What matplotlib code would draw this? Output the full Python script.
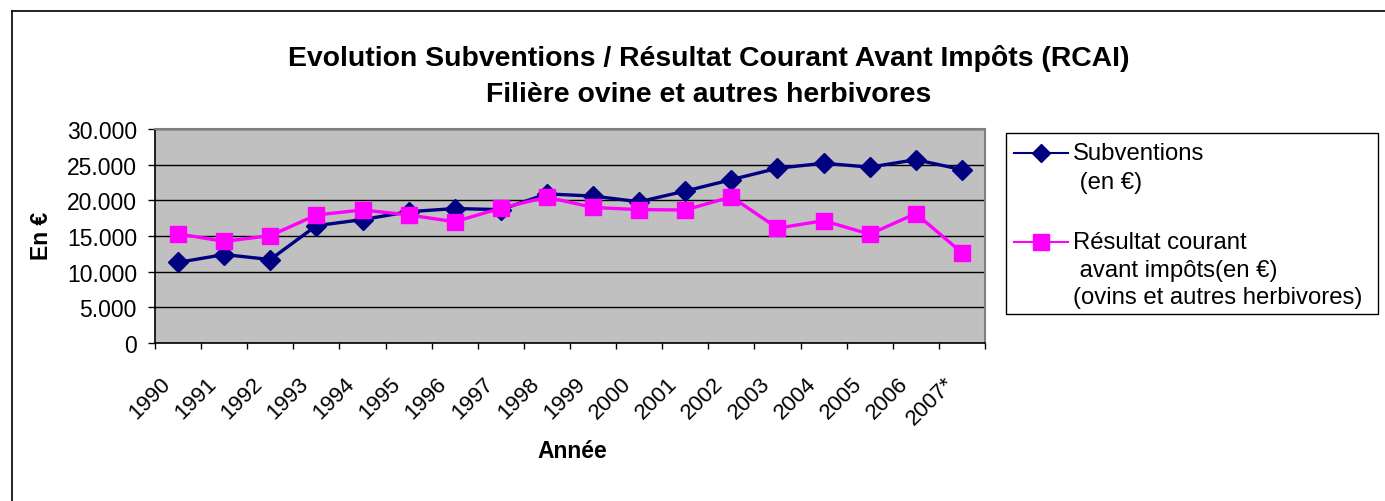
import matplotlib
matplotlib.use("Agg")
import matplotlib.pyplot as plt
import matplotlib.transforms as mtransforms
from matplotlib.lines import Line2D
from matplotlib.patches import Rectangle
import numpy as np

plt.rcParams['font.family'] = ['Liberation Sans', 'DejaVu Sans']

years = ['1990', '1991', '1992', '1993', '1994', '1995', '1996', '1997', '1998',
         '1999', '2000', '2001', '2002', '2003', '2004', '2005', '2006', '2007*']
subventions = [11300, 12400, 11700, 16450, 17300, 18400, 18850, 18700, 20900,
               20600, 19800, 21300, 22900, 24500, 25200, 24650, 25700, 24300]
rcai = [15300, 14250, 15050, 17950, 18650, 17950, 17000, 18900, 20450,
        19000, 18700, 18650, 20500, 16100, 17150, 15250, 18150, 12650]
yticks = [0, 5000, 10000, 15000, 20000, 25000, 30000]
ytick_labels = ['0', '5.000', '10.000', '15.000', '20.000', '25.000', '30.000']

W, H = 1385, 502
fig = plt.figure(figsize=(W / 100, H / 100), dpi=100)
fig.patch.set_facecolor('white')

def fx(px):
    return px / W

def fy(py):
    return 1 - py / H

# outer frame (left and top visible)
fig.add_artist(Line2D([fx(12), fx(12)], [fy(12), 0], color='black', lw=1.2, transform=fig.transFigure))
fig.add_artist(Line2D([fx(12), 1], [fy(12), fy(12)], color='black', lw=1.2, transform=fig.transFigure))

ax = fig.add_axes([fx(155), fy(344), fx(985) - fx(155), fy(130) - fy(344)])
ax.set_facecolor('#C0C0C0')

x = np.arange(len(years))
ax.plot(x, subventions, color='#000080', lw=2.4, marker='D', ms=10, zorder=3)
ax.plot(x, rcai, color='#FF00FF', lw=2.4, marker='s', ms=11, zorder=4)

ax.set_xlim(-0.5, len(years) - 0.5)
ax.set_ylim(0, 30000)
ax.set_yticks(yticks)
ax.set_yticklabels(ytick_labels, fontsize=16.5)
ax.tick_params(axis='y', direction='out', length=5, width=1, pad=8)
ax.set_xticks(np.arange(len(years) + 1) - 0.5)
ax.set_xticklabels([])
ax.tick_params(axis='x', direction='out', length=4.5, width=1)
ax.yaxis.grid(True, color='black', lw=1.0)
ax.set_axisbelow(True)

for side in ['left', 'bottom']:
    ax.spines[side].set_color('black')
    ax.spines[side].set_linewidth(1.2)
for side in ['top', 'right']:
    ax.spines[side].set_color('#808080')
    ax.spines[side].set_linewidth(1.5)

# rotated year labels
trans = mtransforms.blended_transform_factory(ax.transData, ax.transAxes)
off = mtransforms.ScaledTranslation(-0.11, -0.37, fig.dpi_scale_trans)
for i, lab in enumerate(years):
    ax.text(i, 0, lab, transform=trans + off, rotation=45, rotation_mode='anchor',
            ha='right', va='center', fontsize=16)

# titles and axis labels
fig.text(fx(709), fy(58), 'Evolution Subventions / Résultat Courant Avant Impôts (RCAI)',
         ha='center', va='center', fontsize=20.4, fontweight='bold')
fig.text(fx(709), fy(95), 'Filière ovine et autres herbivores',
         ha='center', va='center', fontsize=20.4, fontweight='bold')
fig.text(fx(572), fy(452), 'Année', ha='center', va='center', fontsize=16.5, fontweight='bold')
fig.text(fx(42), fy(236), 'En €', ha='center', va='center', rotation=90,
         fontsize=16.5, fontweight='bold')

# legend drawn by hand
fig.add_artist(Rectangle((fx(1006), fy(315)), fx(1378) - fx(1006), fy(134) - fy(315),
                         transform=fig.transFigure, facecolor='white', edgecolor='black', lw=1.0))
fig.add_artist(Line2D([fx(1014), fx(1068)], [fy(154), fy(154)], color='#000080', lw=1.5,
                      transform=fig.transFigure))
fig.add_artist(Line2D([fx(1041)], [fy(154)], color='#000080', marker='D', ms=9,
                      transform=fig.transFigure))
fig.add_artist(Line2D([fx(1014), fx(1068)], [fy(243), fy(243)], color='#FF00FF', lw=1.5,
                      transform=fig.transFigure))
fig.add_artist(Line2D([fx(1041)], [fy(243)], color='#FF00FF', marker='s', ms=11,
                      transform=fig.transFigure))
legend_lines = [(1073, 154, 'Subventions'), (1073, 183, ' (en €)'),
                (1073, 243, 'Résultat courant'), (1073, 271, ' avant impôts(en €)'),
                (1073, 298, '(ovins et autres herbivores)')]
for lx, ly, txt in legend_lines:
    fig.text(fx(lx), fy(ly), txt, ha='left', va='center', fontsize=17.2)

fig.savefig('out.png', dpi=100)
